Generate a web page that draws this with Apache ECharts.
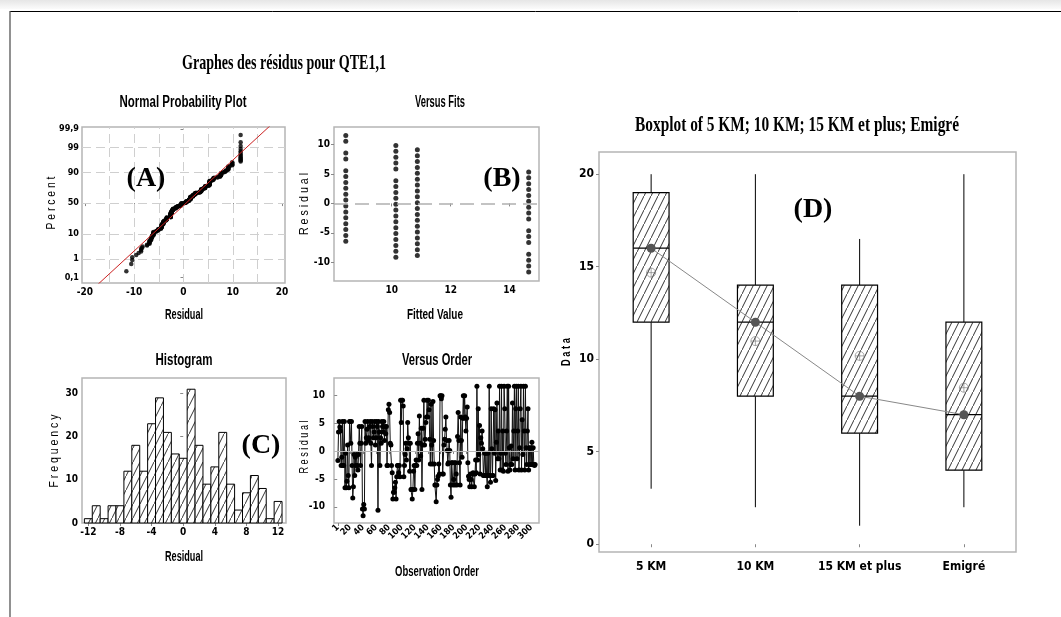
<!DOCTYPE html>
<html><head><meta charset="utf-8">
<script src="https://cdn.jsdelivr.net/npm/echarts@6/dist/echarts.min.js"></script>
<style>html,body{margin:0;padding:0;background:#fff}#c{width:1061px;height:617px}</style>
</head><body><div id="c"></div>
<script>
// ================= DATA =================
// (A) Normal probability plot
const probTickPercents = [0.1, 1, 10, 50, 90, 99, 99.9];
const probTickLabels = ['0,1', '1', '10', '50', '90', '99', '99,9'];
const probGridPercents = [1, 10, 50, 90, 99];
const probGridResiduals = [-15, -10, -5, 0, 5, 10, 15];
const probXTicks = [-20, -10, 0, 10, 20];

// (B) Versus fits
const fitValues = [8.44, 10.14, 10.87, 14.65];
const fitResidG1 = [-6.44,-5.44,-4.44,-3.44,-2.44,-1.44,-0.44,0.56,1.56,2.56,3.56,4.56,5.56,7.56,8.56,10.56,11.56];
const fitResidG2 = [-9.14,-8.14,-7.14,-6.14,-5.14,-4.14,-3.14,-2.14,-1.14,-0.14,0.86,1.86,2.86,3.86,5.86,6.86,7.86,8.86,9.86];
const fitResidG3 = [-8.87,-7.87,-6.87,-5.87,-4.87,-3.87,-2.87,-1.87,-0.87,0.13,1.13,2.13,3.13,4.13,5.13,6.13,7.13,8.13,9.13];
const fitResidG4 = [-11.65,-10.65,-9.65,-8.65,-6.65,-5.65,-4.65,-2.65,-1.65,-0.65,0.35,1.35,2.35,3.35,4.35,5.35];
const fitXTicks = [10, 12, 14];
const residTicks = [-10, -5, 0, 5, 10];

// (C) Histogram
const histCenters = [-12,-11,-10,-9,-8,-7,-6,-5,-4,-3,-2,-1,0,1,2,3,4,5,6,7,8,9,10,11,12];
const histCounts  = [1,4,1,4,4,12,18,12,23,29,21,16,15,31,18,9,13,21,9,3,7,11,8,1,5];
const histXTicks = [-12, -8, -4, 0, 4, 8, 12];
const histYTicks = [0, 10, 20, 30];

// Versus order (residuals in observation order)
const orderResiduals = [
 -1.7,3.4,5.3,4.3,3.6,-2.6,-1.1,5.3,-2.6,-2.6,
 5.3,-6.6,-0.4,-6.6,-5.4,1.1,-4.4,-6.6,5.3,5.3,
 1.4,5.3,-2.6,-8.4,-6.4,-0.6,-4.4,-1.1,-2.6,-0.6,
 -2.6,-3.4,-0.6,4.4,1.4,-2.6,1.4,4.4,-10.4,-11.6,
 -9.6,-10.4,5.3,1.4,2.4,3.9,5.3,1.9,2.4,4.4,
 5.3,1.4,-2.6,5.3,4.4,2.4,3.4,5.3,1.1,2.4,
 5.3,4.4,-10.6,5.3,3.4,-2.6,2.4,1.4,5.3,4.4,
 3.4,5.3,1.9,4.4,3.1,4.4,-2.6,-2.6,7.4,8.4,
 6.9,1.4,1.1,-2.6,-3.9,-8.6,-7.4,-7.4,-6.6,-5.6,
 -8.6,-4.6,-2.6,-2.6,-3.9,-2.6,-4.6,9.1,5.1,9.1,
 9.1,8.1,-4.6,-2.6,-0.6,1.4,-1.6,0.4,5.1,2.4,
 1.4,-3.6,1.4,-6.9,-6.9,-8.6,-6.9,-3.6,-2.6,-6.9,
 -2.6,-1.6,-2.6,1.4,3.1,-1.6,6.3,1.4,-0.9,4.1,
 -6.9,1.1,4.1,9.1,1.1,2.1,5.1,6.1,9.1,6.1,
 9.1,7.4,2.1,-2.3,8.4,1.1,-2.3,8.9,1.9,-2.3,
 -6.1,-6.1,-9.1,-6.1,-5.1,-4.5,-2.3,-4.1,9.9,9.9,
 9.4,9.9,-4.1,-4.1,1.1,2.1,3.9,6.1,1.9,0.1,
 -2.3,-2.1,1.9,0.1,-6.1,-8.3,-2.1,-2.1,-6.1,-5.1,
 -2.1,-6.1,-2.1,-4.1,-6.1,2.6,6.9,1.9,-2.1,-6.1,
 6.1,1.9,-1.1,5.9,9.9,5.9,9.9,6.1,3.6,5.9,
 7.9,-2.1,-4.5,-5.1,-6.4,-4.1,-5.1,-6.4,-4.1,-3.9,
 -4.1,-6.4,-4.1,-1.6,-3.9,11.6,-1.6,7.6,-0.6,4.6,
 -4.1,2.4,1.4,3.6,0.4,-4.4,-4.4,-0.4,-4.4,-0.4,
 -4.4,-6.4,-0.4,-4.4,11.6,-4.4,-5.6,7.6,0.4,-4.4,
 -4.4,7.6,-0.4,7.4,-5.3,1.6,8.6,-1.4,3.6,-1.4,
 11.6,-3.4,-0.4,11.6,-3.4,3.6,-3.6,11.6,7.6,-0.4,
 -2.4,3.6,11.6,-3.6,11.6,0.6,-3.4,-2.4,0.9,-2.4,
 8.6,-1.4,3.6,11.6,-3.4,7.6,11.6,-1.4,3.6,11.6,
 -3.4,0.6,7.6,11.6,-3.4,5.6,-0.6,11.6,3.6,-3.4,
 11.6,0.6,-2.4,3.6,7.6,-3.4,0.6,-2.4,0.6,-2.4,
 1.6,-2.4,0.6,-2.4,-2.6,-2.4
];
const orderFirstTick = [1];
const orderTicks = [20,40,60,80,100,120,140,160,180,200,220,240,260,280,300];

// (D) Boxplot
const boxCategories = ['5 KM', '10 KM', '15 KM et plus', 'Emigré'];
const boxMin    = [3, 2, 1, 2];
const boxQ1     = [12, 8, 6, 4];
const boxMedian = [16, 12, 8, 7];
const boxQ3     = [19, 14, 14, 12];
const boxMax    = [20, 20, 16.5, 20];
const boxMean   = [14.68, 10.98, 10.18, 8.46];
const boxYTicks = [0, 5, 10, 15, 20];

// ================= HELPERS =================
function invNorm(p){
 const a=[-3.969683028665376e+01,2.209460984245205e+02,-2.759285104469687e+02,1.383577518672690e+02,-3.066479806614716e+01,2.506628277459239e+00];
 const b=[-5.447609879822406e+01,1.615858368580409e+02,-1.556989798598866e+02,6.680131188771972e+01,-1.328068155288572e+01];
 const c=[-7.784894002430293e-03,-3.223964580411365e-01,-2.400758277161838e+00,-2.549671500000000e+00,4.374664141464968e+00,2.938163982698783e+00];
 const d=[7.784695709041462e-03,3.224671290700398e-01,2.445134137142996e+00,3.754408661907416e+00];
 const pl=0.02425, ph=1-pl; let q,r;
 if(p<pl){q=Math.sqrt(-2*Math.log(p));return (((((c[0]*q+c[1])*q+c[2])*q+c[3])*q+c[4])*q+c[5])/((((d[0]*q+d[1])*q+d[2])*q+d[3])*q+1);}
 if(p<=ph){q=p-0.5;r=q*q;return (((((a[0]*r+a[1])*r+a[2])*r+a[3])*r+a[4])*r+a[5])*q/(((((b[0]*r+b[1])*r+b[2])*r+b[3])*r+b[4])*r+1);}
 q=Math.sqrt(-2*Math.log(1-p));return -(((((c[0]*q+c[1])*q+c[2])*q+c[3])*q+c[4])*q+c[5])/((((d[0]*q+d[1])*q+d[2])*q+d[3])*q+1);
}
const zOf = pc => invNorm(pc/100);
const probTickZ = probTickPercents.map(zOf);

// probability plot points (median ranks)
const sorted = orderResiduals.slice().sort((x,y)=>x-y);
const nObs = sorted.length;
const probPoints = sorted.map((r,i)=>[r, invNorm((i+1-0.3)/(nObs+0.4))]);
const mean = sorted.reduce((s,v)=>s+v,0)/nObs;
const sd = Math.sqrt(sorted.reduce((s,v)=>s+(v-mean)*(v-mean),0)/(nObs-1));
const fitLine = [[mean+sd*-3.6, -3.6],[mean+sd*3.6, 3.6]];

// hatch pattern
function makeHatch(){
  const cv=document.createElement('canvas'); cv.width=7; cv.height=14;
  const g=cv.getContext('2d'); g.fillStyle='#fff'; g.fillRect(0,0,7,14);
  g.strokeStyle='#000'; g.lineWidth=0.8; g.beginPath(); g.moveTo(-1,16); g.lineTo(8,-2); g.stroke();
  return cv;
}
const hatch = {image: makeHatch(), repeat: 'repeat'};

const mctx=document.createElement('canvas').getContext('2d');
function T(str, cx, cy, o){
  let sc=1;
  if(o.w){ mctx.font=o.font; sc=o.w/mctx.measureText(str).width; }
  return {type:'text', x:cx, y:cy, rotation:o.rot||0, scaleX:sc, silent:true, z:100,
    style:{text:str, font:o.font, fill:o.fill||'#000', textAlign:'center', textVerticalAlign:'middle', align:'center', verticalAlign:'middle'}};
}
const SANS='"Liberation Sans", Arial, sans-serif';
const SERIF='"Liberation Serif", "Times New Roman", serif';
const NARROW='"Liberation Sans Narrow", "DejaVu Sans Condensed", sans-serif';
const sub = (s,x,y,w)=>T(s,x,y,{font:'bold 16px '+SANS, w:w});
const ylab = (s,x,y,w,b)=>T(s,x,y,{font:(b?'bold ':'')+'12px '+SANS, w:w, rot:Math.PI/2});

const tickFont = {fontFamily:NARROW, fontWeight:'bold', fontSize:10, color:'#000'};
function vAxis(gi, min, max, ticks, extra){
  return Object.assign({type:'value', gridIndex:gi, min:min, max:max, splitLine:{show:false},
    axisLine:{show:false},
    axisTick:{show:true, customValues:ticks, length:3, lineStyle:{color:'#888'}},
    axisLabel:Object.assign({customValues:ticks, margin:4, showMinLabel:true, showMaxLabel:true}, tickFont)}, extra||{});
}
const orderLabelStyle = Object.assign({rotate:45, margin:3}, tickFont, {fontSize:9});

// ================= CHART =================
const chart = echarts.init(document.getElementById('c'), null, {renderer:'canvas'});
const gridStyle = {show:true, borderColor:'#b5b5b5', borderWidth:1.5, backgroundColor:'#fff'};

const option = {
  animation:false,
  backgroundColor:'#fff',
  grid:[
    Object.assign({left:82, top:127, width:203, height:156}, gridStyle),
    Object.assign({left:334, top:127, width:205, height:154}, gridStyle),
    Object.assign({left:82, top:378, width:204, height:145}, gridStyle),
    Object.assign({left:334, top:378, width:205, height:145}, gridStyle),
    Object.assign({left:599, top:152, width:417, height:400}, gridStyle)
  ],
  xAxis:[
    vAxis(0, -20.6, 20.6, probXTicks),
    vAxis(1, 8.04, 15.0, fitXTicks),
    vAxis(2, -12.8, 13.0, histXTicks),
    vAxis(3, -5, 312, orderTicks, {position:'bottom', axisLabel:Object.assign({customValues:orderTicks}, orderLabelStyle)}),
    {type:'category', gridIndex:4, data:boxCategories, boundaryGap:true,
      axisLine:{show:false}, splitLine:{show:false},
      axisTick:{show:true, alignWithLabel:true, length:3, lineStyle:{color:'#888'}},
      axisLabel:Object.assign({margin:9, interval:0}, tickFont, {fontSize:12})},
    vAxis(3, -5, 312, orderFirstTick, {position:'bottom', offset:0, axisLabel:Object.assign({customValues:orderFirstTick}, orderLabelStyle)})
  ],
  yAxis:[
    vAxis(0, -3.33, 3.17, probTickZ, {axisLabel:Object.assign({customValues:probTickZ, margin:3,
      formatter:v=>{let k=0,b=1e9;probTickZ.forEach((z,i)=>{if(Math.abs(z-v)<b){b=Math.abs(z-v);k=i;}});return probTickLabels[k];}}, tickFont, {fontSize:9})}),
    vAxis(1, -13.2, 13.0, residTicks),
    vAxis(2, 0, 33.6, histYTicks),
    vAxis(3, -12.9, 13.1, residTicks, {axisLabel:Object.assign({customValues:residTicks, margin:9}, tickFont)}),
    vAxis(4, -0.42, 21.2, boxYTicks, {axisLabel:Object.assign({customValues:boxYTicks, margin:5}, tickFont, {fontSize:12})})
  ],
  series:[
    // (A)
    {type:'scatter', xAxisIndex:0, yAxisIndex:0, data:probPoints, symbolSize:4.5,
      itemStyle:{color:'#000'}, z:5,
      markLine:{silent:true, symbol:['none','none'], label:{show:false}, z:1,
        lineStyle:{color:'#cfcfcf', type:[9,5], width:1},
        data:[...probGridResiduals.map(v=>({xAxis:v})), ...probGridPercents.map(p=>({yAxis:zOf(p)}))]}},
    {type:'line', xAxisIndex:0, yAxisIndex:0, data:fitLine, symbol:'none', clip:true,
      lineStyle:{color:'#cc2222', width:1}, z:6},
    // (B)
    {type:'scatter', xAxisIndex:1, yAxisIndex:1, symbolSize:5, itemStyle:{color:'#000'},
      data:[...fitResidG1.map(r=>[fitValues[0],r]), ...fitResidG2.map(r=>[fitValues[1],r]),
            ...fitResidG3.map(r=>[fitValues[2],r]), ...fitResidG4.map(r=>[fitValues[3],r])],
      markLine:{silent:true, symbol:['none','none'], label:{show:false},
        lineStyle:{color:'#b0b0b0', type:[14,7], width:1.5}, data:[{yAxis:0}]}},
    // (C)
    {type:'custom', xAxisIndex:2, yAxisIndex:2,
      data:histCenters.map((c,i)=>[c, histCounts[i]]),
      encode:{x:0, y:1},
      renderItem:(params, api)=>{
        const c=api.value(0), h=api.value(1);
        const p0=api.coord([c-0.5, h]), p1=api.coord([c+0.5, 0]);
        return {type:'rect', shape:{x:p0[0], y:p0[1], width:p1[0]-p0[0], height:p1[1]-p0[1]},
          style:{fill:hatch, stroke:'#000', lineWidth:1}};
      }},
    // Versus order
    {type:'line', xAxisIndex:3, yAxisIndex:3, data:orderResiduals.map((r,i)=>[i+1, r]),
      symbol:'circle', symbolSize:5, showSymbol:true, itemStyle:{color:'#000'},
      lineStyle:{color:'#111', width:1},
      markLine:{silent:true, symbol:['none','none'], label:{show:false},
        lineStyle:{color:'#b8b8b8', type:'solid', width:1}, data:[{yAxis:0}]}},
    // (D) boxes
    {type:'custom', xAxisIndex:4, yAxisIndex:4,
      data:boxCategories.map((c,i)=>[i, boxMin[i], boxQ1[i], boxMedian[i], boxQ3[i], boxMax[i]]),
      encode:{x:0, y:[1,2,3,4,5]},
      renderItem:(params, api)=>{
        const i=api.value(0);
        const pMin=api.coord([i,api.value(1)]), pQ1=api.coord([i,api.value(2)]),
              pMed=api.coord([i,api.value(3)]), pQ3=api.coord([i,api.value(4)]), pMax=api.coord([i,api.value(5)]);
        const hw=api.size([1,0])[0]*0.172, x=pMed[0];
        return {type:'group', children:[
          {type:'line', shape:{x1:x,y1:pMax[1],x2:x,y2:pQ3[1]}, style:{stroke:'#000', lineWidth:1}},
          {type:'line', shape:{x1:x,y1:pQ1[1],x2:x,y2:pMin[1]}, style:{stroke:'#000', lineWidth:1}},
          {type:'rect', shape:{x:x-hw, y:pQ3[1], width:2*hw, height:pQ1[1]-pQ3[1]}, style:{fill:hatch, stroke:'#000', lineWidth:1.2}},
          {type:'line', shape:{x1:x-hw,y1:pMed[1],x2:x+hw,y2:pMed[1]}, style:{stroke:'#000', lineWidth:1.2}}
        ]};
      }},
    {type:'line', xAxisIndex:4, yAxisIndex:4, data:boxMedian, symbol:'circle', symbolSize:9,
      itemStyle:{color:'#555'}, lineStyle:{color:'#888', width:1}, z:10},
    {type:'scatter', xAxisIndex:4, yAxisIndex:4, data:boxMean, symbolSize:9,
      symbol:'path://M10,0A10,10 0 1,1 9.99,0ZM10,0L10,20M0,10L20,10',
      itemStyle:{color:'none', borderColor:'#777', borderWidth:0.8}, z:11}
  ],
  graphic:[
    {type:'rect', shape:{x:0,y:0,width:1061,height:9}, silent:true,
      style:{fill:new echarts.graphic.LinearGradient(0,0,0,1,[{offset:0,color:'#e6e6e6'},{offset:1,color:'#fbfbfb'}])}},
    {type:'line', shape:{x1:10,y1:11.5,x2:1061,y2:11.5}, style:{stroke:'#000', lineWidth:1}, silent:true},
    {type:'line', shape:{x1:10,y1:11,x2:10,y2:617}, style:{stroke:'#555', lineWidth:1.3}, silent:true},
    T('Graphes des résidus pour QTE1,1', 284, 64, {font:'bold 21px '+SERIF, w:204}),
    sub('Normal Probability Plot', 183, 103, 127),
    sub('Versus Fits', 440, 103, 50),
    sub('Histogram', 184, 361, 57),
    sub('Versus Order', 437, 361, 70),
    T('Residual', 184, 315, {font:'bold 14px '+SANS, w:38}),
    T('Fitted Value', 435, 315, {font:'bold 14px '+SANS, w:56}),
    T('Residual', 184, 557, {font:'bold 14px '+SANS, w:38}),
    T('Observation Order', 437, 572, {font:'bold 14px '+SANS, w:84}),
    ylab('P e r c e n t', 52, 203, 53),
    ylab('R e s i d u a l', 305, 204, 62),
    ylab('F r e q u e n c y', 55, 451, 73),
    ylab('R e s i d u a l', 305, 447, 53),
    ylab('D a t a', 567, 352, 28, true),
    T('Boxplot of 5 KM; 10 KM; 15 KM et plus; Emigré', 797, 125, {font:'bold 22px '+SERIF, w:324}),
    T('(A)', 146, 179, {font:'bold 28px '+SERIF}),
    T('(B)', 502, 179, {font:'bold 28px '+SERIF}),
    T('(C)', 261, 446, {font:'bold 28px '+SERIF}),
    T('(D)', 813, 210, {font:'bold 28px '+SERIF})
  ]
};
chart.setOption(option);
</script></body></html>
